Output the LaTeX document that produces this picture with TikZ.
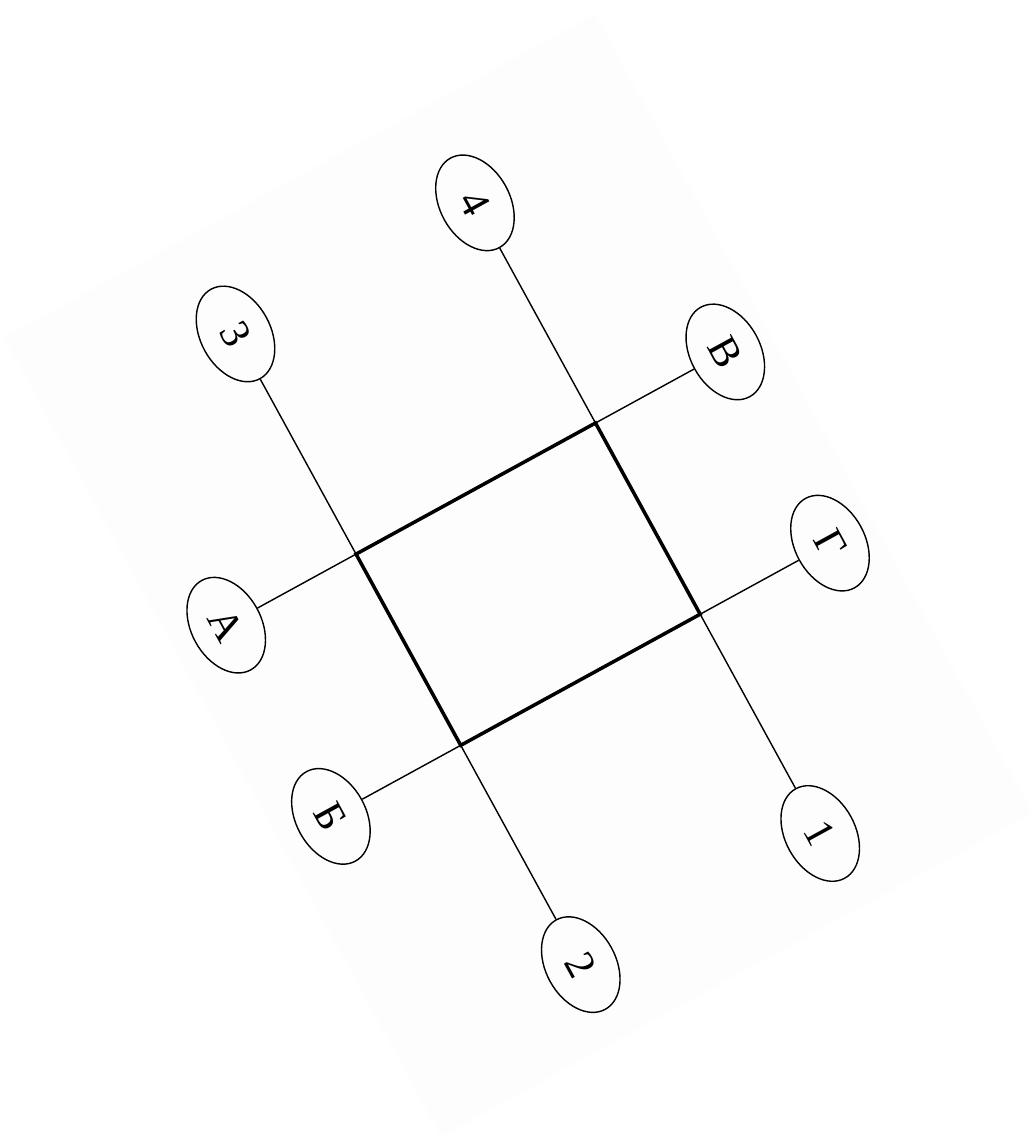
\documentclass[tikz,border=0pt]{standalone}
\usepackage{fontspec}
\setmainfont{Liberation Serif}
\usetikzlibrary{shapes.geometric,positioning}
\definecolor{sheet}{HTML}{FDFDFD}

\begin{document}
\begin{tikzpicture}[x=0.02cm,y=-0.02cm,
bubble/.style={ellipse,draw,line width=0.8pt,
  minimum width=2.04cm,minimum height=1.4cm,inner sep=0pt,
  font=\fontsize{24}{27}\selectfont,transform shape},
wire/.style={line width=0.8pt},
frame/.style={line width=2pt}]

\useasboundingbox (0,0) rectangle (1033,1135);

\begin{scope}[shift={(595,14)},rotate=-61.3]

% sheet
\fill[sheet] (0,0) rectangle (911,674);

% square
\coordinate (tl) at (359,196);
\coordinate (tr) at (577,196);
\coordinate (br) at (577,469);
\coordinate (bl) at (359,469);

% ellipses
\node[bubble] (n4) at (108,196) {4};
\node[bubble] (n3) at (108,469) {3};
\node[bubble] (n1) at (827,196) {1};
\node[bubble] (n2) at (827,469) {2};
\node[bubble] (nV) at (359,48) {В};
\node[bubble] (nG) at (577,48) {Г};
\node[bubble] (nA) at (359,617) {А};
\node[bubble] (nB) at (577,617) {Б};

\draw[wire] (n4) -- (n1);
\draw[wire] (n3) -- (n2);
\draw[wire] (nV) -- (nA);
\draw[wire] (nG) -- (nB);

\draw[frame] (tl) -- (tr) -- (br) -- (bl) -- cycle;

\end{scope}
\end{tikzpicture}
\end{document}
